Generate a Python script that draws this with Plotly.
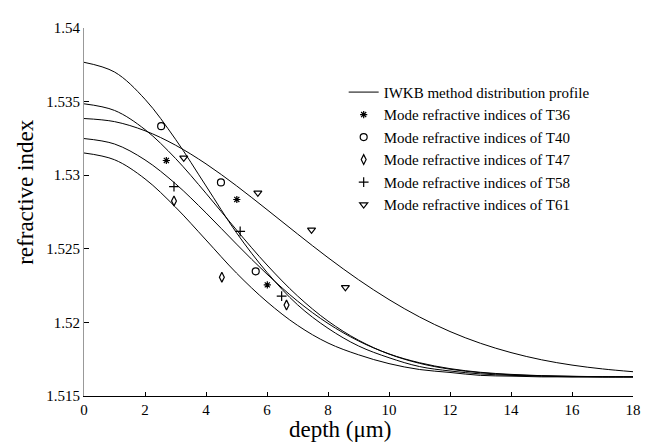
import plotly.graph_objects as go

# depth grid (um) for the IWKB profiles
depth = [0, 1, 2, 3, 4, 5, 6, 7, 8, 9, 10, 11, 12, 13, 14, 15, 16, 17, 18]

# IWKB distribution profiles
profile_1 = [1.53767, 1.53701, 1.53516, 1.53244, 1.52927, 1.52609, 1.52340, 1.52120, 1.51960,
             1.51840, 1.51760, 1.51700, 1.51670, 1.51650, 1.51640, 1.51635, 1.51630, 1.51630, 1.51630]
profile_2 = [1.53485, 1.53440, 1.53310, 1.53114, 1.52877, 1.52628, 1.52390, 1.52180, 1.52009,
             1.51879, 1.51785, 1.51722, 1.51682, 1.51658, 1.51644, 1.51637, 1.51633, 1.51630, 1.51630]
profile_3 = [1.53385, 1.53364, 1.53302, 1.53204, 1.53077, 1.52928, 1.52766, 1.52601, 1.52440,
             1.52290, 1.52155, 1.52037, 1.51938, 1.51858, 1.51795, 1.51746, 1.51710, 1.51684, 1.51665]
profile_4 = [1.53249, 1.53212, 1.53104, 1.52942, 1.52744, 1.52532, 1.52328, 1.52145, 1.51993,
             1.51874, 1.51786, 1.51726, 1.51686, 1.51661, 1.51647, 1.51638, 1.51634, 1.51631, 1.51630]
profile_5 = [1.53151, 1.53105, 1.52975, 1.52783, 1.52560, 1.52335, 1.52140, 1.51980, 1.51860,
             1.51780, 1.51720, 1.51680, 1.51660, 1.51640, 1.51635, 1.51630, 1.51630, 1.51630, 1.51630]

# measured mode refractive indices
t36_x = [2.70, 5.01, 6.01]
t36_n = [1.53100, 1.52835, 1.52255]
t40_x = [2.53, 4.49, 5.63]
t40_n = [1.53333, 1.52951, 1.52347]
t47_x = [2.95, 4.52, 6.64]
t47_n = [1.52825, 1.52307, 1.52118]
t58_x = [2.95, 5.12, 6.48]
t58_n = [1.52922, 1.52618, 1.52178]
t61_x = [3.27, 5.70, 7.46, 8.57]
t61_n = [1.53118, 1.52880, 1.52629, 1.52238]

x_ticks = [0, 2, 4, 6, 8, 10, 12, 14, 16, 18]
y_ticks = [1.515, 1.52, 1.525, 1.53, 1.535, 1.54]
y_tick_text = ["1.515", "1.52", "1.525", "1.53", "1.535", "1.54"]

FONT = "Liberation Serif, Times New Roman, serif"

fig = go.Figure()

profiles = [profile_1, profile_2, profile_3, profile_4, profile_5]
for i, prof in enumerate(profiles):
    fig.add_trace(go.Scatter(
        x=depth, y=prof, mode="lines", line=dict(color="black", width=1, shape="spline"),
        name="IWKB method distribution profile", showlegend=(i == 0), hoverinfo="skip"))

markers = [
    (t36_x, t36_n, "asterisk-open", 6, "Mode refractive indices of T36"),
    (t40_x, t40_n, "circle-open", 7, "Mode refractive indices of T40"),
    (t47_x, t47_n, "diamond-tall-open", 7, "Mode refractive indices of T47"),
    (t58_x, t58_n, "cross-thin-open", 7, "Mode refractive indices of T58"),
    (t61_x, t61_n, "triangle-down-open", 7, "Mode refractive indices of T61"),
]
for xs, ys, sym, sz, nm in markers:
    fig.add_trace(go.Scatter(
        x=xs, y=ys, mode="markers", name=nm,
        marker=dict(symbol=sym, size=sz, color="black", line=dict(color="black", width=1.2))))

# page body has an 8px margin, so the figure is sized/offset to compensate
fig.update_layout(
    width=645, height=434,
    margin=dict(l=76, r=16, t=13, b=46),
    paper_bgcolor="white", plot_bgcolor="white",
    font=dict(family=FONT, size=15, color="black"),
    showlegend=True,
    legend=dict(x=0.473, y=0.87, xanchor="left", yanchor="top",
                bgcolor="rgba(255,255,255,0)", borderwidth=0,
                font=dict(family=FONT, size=15, color="black")),
)
fig.update_xaxes(
    range=[0, 18], tickvals=x_ticks, ticks="inside", ticklen=4, tickcolor="black",
    showline=True, linecolor="black", linewidth=1, showgrid=False, zeroline=False,
    tickfont=dict(family=FONT, size=15, color="black"))
fig.update_yaxes(
    range=[1.515, 1.54], tickvals=y_ticks, ticktext=y_tick_text, ticks="inside", ticklen=5,
    tickcolor="black", showline=True, linecolor="#999999", linewidth=1, showgrid=False,
    zeroline=False, tickfont=dict(family=FONT, size=15, color="black"))

fig.add_annotation(text="depth (\u03bcm)", xref="paper", yref="paper", x=(341.5 - 84) / 553,
                   y=-0.09, xanchor="center", yanchor="middle", showarrow=False,
                   font=dict(family=FONT, size=23, color="black"))
fig.add_annotation(text="refractive index", xref="paper", yref="paper", x=(25 - 84) / 553,
                   y=(396 - 188.5) / 375, xanchor="center", yanchor="middle", showarrow=False,
                   textangle=-90, font=dict(family=FONT, size=23, color="black"))

fig.write_html("out.html")
